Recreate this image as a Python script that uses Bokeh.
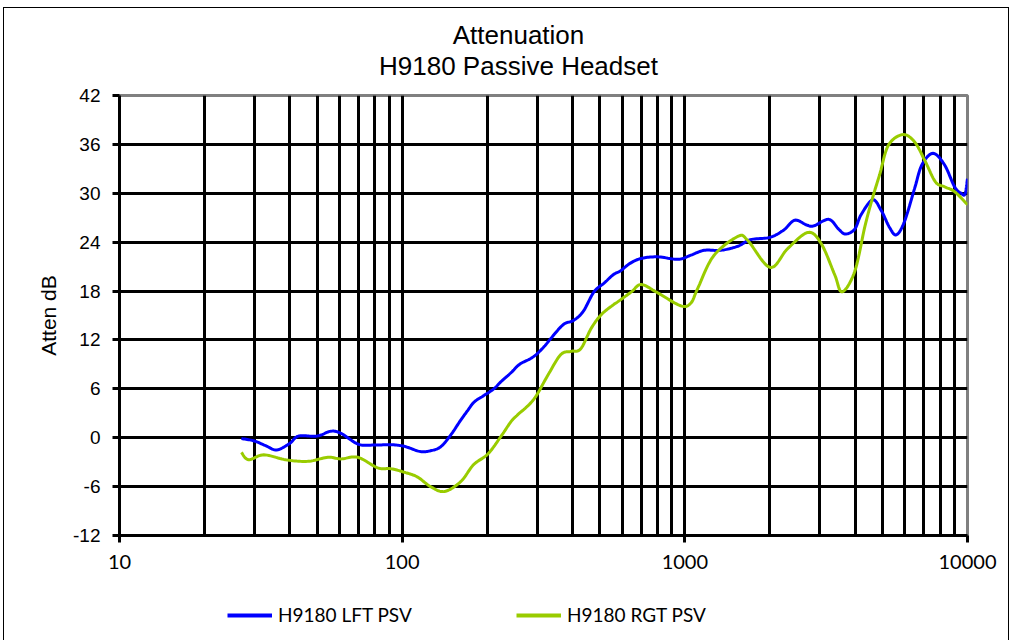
import math
from bokeh.plotting import figure
from bokeh.layouts import column
from bokeh.models import FixedTicker, Legend, LegendItem, Range1d, Label, InlineStyleSheet
from bokeh.embed import file_html
from bokeh.resources import INLINE

# ---- data ----
freq_lft = [27, 30, 33, 36, 40, 43, 50, 56, 61, 70, 80, 91, 100, 105, 116, 126, 137, 149,
            160, 171, 180, 195, 211, 224, 243, 260, 284, 300, 320, 336, 372, 404, 437, 477,
            519, 558, 593, 640, 701, 800, 946, 1050, 1170, 1340, 1540, 1705, 2003, 2240,
            2450, 2700, 2860, 3230, 3500, 3700, 3990, 4207, 4620, 4950, 5300, 5600, 5980,
            6500, 6900, 7550, 8290, 9000, 9500, 9800, 10000]
att_lft = [-0.1, -0.4, -1.0, -1.5, -0.7, 0.2, 0.2, 0.8, 0.5, -0.8, -0.9, -0.85, -1.0, -1.2,
           -1.7, -1.6, -1.1, 0.4, 2.0, 3.4, 4.4, 5.2, 6.0, 6.9, 8.0, 9.0, 9.7, 10.3, 11.3,
           12.2, 13.9, 14.4, 15.5, 17.9, 19.0, 20.0, 20.5, 21.4, 22.0, 22.2, 21.9, 22.4,
           23.0, 23.0, 23.5, 24.3, 24.6, 25.5, 26.7, 26.1, 26.0, 26.8, 25.6, 25.0, 25.6,
           27.4, 29.2, 27.9, 25.8, 24.9, 26.5, 30.6, 33.5, 34.9, 33.5, 30.8, 30.0, 29.9, 31.8]

freq_rgt = [27, 28.6, 32.4, 38.7, 46.3, 54.6, 60.7, 69.6, 82, 91, 101, 113, 126, 141, 161,
            179, 201, 224, 243, 256, 292, 328, 364, 396, 428, 466, 506, 558, 580, 647, 701,
            800, 966, 1049, 1110, 1263, 1540, 1670, 2003, 2310, 2730, 3040, 3390, 3600,
            3990, 4340, 4620, 4890, 5250, 5900, 6500, 7090, 7700, 8290, 9000, 10000]
att_rgt = [-1.8, -2.7, -2.1, -2.7, -2.9, -2.4, -2.6, -2.4, -3.7, -3.8, -4.2, -4.8, -6.0,
           -6.6, -5.4, -3.3, -2.0, 0.2, 2.0, 2.8, 4.7, 7.7, 10.2, 10.6, 10.9, 13.4, 15.1,
           16.3, 16.7, 17.9, 18.8, 17.8, 16.2, 16.5, 18.3, 22.3, 24.7, 24.2, 20.9, 23.2,
           25.2, 23.8, 20.0, 17.9, 20.4, 26.0, 29.5, 32.3, 35.9, 37.2, 36.3, 33.9, 31.4,
           30.8, 30.2, 28.6]

series_names = ["H9180 LFT PSV", "H9180 RGT PSV"]
series_colors = ["#0000ff", "#99cc00"]
title_lines = ["Attenuation", "H9180 Passive Headset"]
y_label = "Atten dB"
y_ticks = [-12, -6, 0, 6, 12, 18, 24, 30, 36, 42]
y_tick_labels = ["-12", "-6", "0", "6", "12", "18", "24", "30", "36", "42"]
x_ticks = [10, 100, 1000, 10000]
x_tick_labels = ["10", "100", "1000", "10000"]
x_minor = [m * d for d in (10, 100, 1000) for m in range(2, 10)]

W = 1011
H_HEAD, H_MAIN, H_LEG = 80, 516, 44
FRAME_L, FRAME_R, FRAME_T, FRAME_B = 119, 967, 95, 535


def smooth(xs, ys, steps=12):
    """Excel-like smoothed line: Catmull-Rom drawn in log-x space."""
    lx = [math.log10(v) for v in xs]
    n = len(lx)
    ox, oy = [], []
    for i in range(n - 1):
        x0, y0 = (lx[i - 1], ys[i - 1]) if i > 0 else (lx[i], ys[i])
        x1, y1 = lx[i], ys[i]
        x2, y2 = lx[i + 1], ys[i + 1]
        x3, y3 = (lx[i + 2], ys[i + 2]) if i + 2 < n else (x2, y2)
        for s in range(steps):
            t = s / steps
            t2, t3 = t * t, t * t * t
            px = 0.5 * (2 * x1 + (-x0 + x2) * t + (2 * x0 - 5 * x1 + 4 * x2 - x3) * t2
                        + (-x0 + 3 * x1 - 3 * x2 + x3) * t3)
            py = 0.5 * (2 * y1 + (-y0 + y2) * t + (2 * y0 - 5 * y1 + 4 * y2 - y3) * t2
                        + (-y0 + 3 * y1 - 3 * y2 + y3) * t3)
            ox.append(10 ** px)
            oy.append(py)
    ox.append(xs[-1])
    oy.append(ys[-1])
    return ox, oy


def bare(h):
    f = figure(width=W, height=h, x_range=Range1d(0, 1), y_range=Range1d(0, 1),
               output_backend="svg", toolbar_location=None,
               min_border=0, min_border_left=0, min_border_right=0,
               min_border_top=0, min_border_bottom=0)
    f.axis.visible = False
    f.grid.visible = False
    f.outline_line_color = None
    f.background_fill_color = "white"
    f.border_fill_color = "white"
    return f


# ---- header with the two-line title (frame is aligned with the main plot frame) ----
head = bare(H_HEAD)
for txt, cy in ((title_lines[0], 34), (title_lines[1], 65)):
    head.add_layout(Label(x=518 - FRAME_L, y=H_HEAD - cy, x_units="screen", y_units="screen",
                          text=txt, text_align="center", text_baseline="middle",
                          text_font="Liberation Sans", text_font_size="26px",
                          text_color="black"))

# ---- main plot ----
p = figure(width=W, height=H_MAIN, x_axis_type="log",
           x_range=Range1d(10, 10000), y_range=Range1d(-12, 42),
           output_backend="svg", toolbar_location=None,
           min_border_left=FRAME_L, min_border_right=W - FRAME_R,
           min_border_top=FRAME_T - H_HEAD, min_border_bottom=H_HEAD + H_MAIN - FRAME_B)
p.background_fill_color = "white"
p.border_fill_color = "white"
p.outline_line_color = "#808080"
p.outline_line_width = 3

p.xgrid.ticker = FixedTicker(ticks=[100, 1000], minor_ticks=x_minor)
p.xgrid.grid_line_color = "black"
p.xgrid.grid_line_width = 3
p.xgrid.minor_grid_line_color = "black"
p.xgrid.minor_grid_line_width = 3
p.ygrid.ticker = FixedTicker(ticks=y_ticks[1:-1])
p.ygrid.grid_line_color = "black"
p.ygrid.grid_line_width = 3

p.xaxis.ticker = FixedTicker(ticks=x_ticks)
p.xaxis.major_label_overrides = {t: l for t, l in zip(x_ticks, x_tick_labels)}
p.yaxis.ticker = FixedTicker(ticks=y_ticks)
p.yaxis.major_label_overrides = {t: l for t, l in zip(y_ticks, y_tick_labels)}
for ax in (p.xaxis[0], p.yaxis[0]):
    ax.axis_line_color = "black"
    ax.axis_line_width = 3
    ax.major_tick_line_color = "black"
    ax.major_tick_line_width = 3
    ax.major_tick_out = 7
    ax.major_tick_in = 0
    ax.minor_tick_line_color = None
    ax.major_label_text_color = "black"
p.xaxis.major_label_standoff = 12
p.yaxis.major_label_standoff = 12
p.xaxis.major_label_text_font = "Lato"
p.xaxis.major_label_text_font_size = "20px"
p.yaxis.major_label_text_font = "Liberation Sans"
p.yaxis.major_label_text_font_size = "19px"
p.yaxis.axis_label = y_label
p.yaxis.axis_label_text_font = "Liberation Sans"
p.yaxis.axis_label_text_font_size = "21px"
p.yaxis.axis_label_text_font_style = "normal"
p.yaxis.axis_label_text_color = "black"
p.yaxis.axis_label_standoff = 10

lx, ly = smooth(freq_lft, att_lft)
rx, ry = smooth(freq_rgt, att_rgt)
p.line(lx, ly, line_color=series_colors[0], line_width=3)
p.line(rx, ry, line_color=series_colors[1], line_width=3)

# ---- legend strip (its frame is aligned with the main plot frame) ----
legf = bare(H_LEG)
items = []
for name, col, fx, fy in zip(series_names, series_colors, (freq_lft, freq_rgt), (att_lft, att_rgt)):
    # same series data; it lies outside this strip's ranges, only the legend sample shows
    r = legf.line(x=fx, y=fy, line_color=col, line_width=4)
    items.append(LegendItem(label=name, renderers=[r]))
legend = Legend(items=items,
                location=(227 - FRAME_L, H_LEG - (616 - (H_HEAD + H_MAIN)) - 10),
                orientation="horizontal", glyph_width=45, glyph_height=20,
                label_standoff=6, label_width=238, spacing=0, padding=0, margin=0,
                border_line_color=None, background_fill_alpha=0, label_text_font="Lato",
                label_text_font_size="19px", label_text_color="black")
legf.add_layout(legend)

layout = column(head, p, legf, spacing=0)
layout.stylesheets = [InlineStyleSheet(css=(
    ":host { position: relative; }"
    ":host::after { content: ''; position: absolute; left: 3px; top: 7px; right: 2px;"
    " bottom: 0px; border-style: solid; border-color: #000; border-width: 1px 1px 0 1px;"
    " pointer-events: none; }"))]

open("out.html", "w").write(file_html(layout, INLINE))
